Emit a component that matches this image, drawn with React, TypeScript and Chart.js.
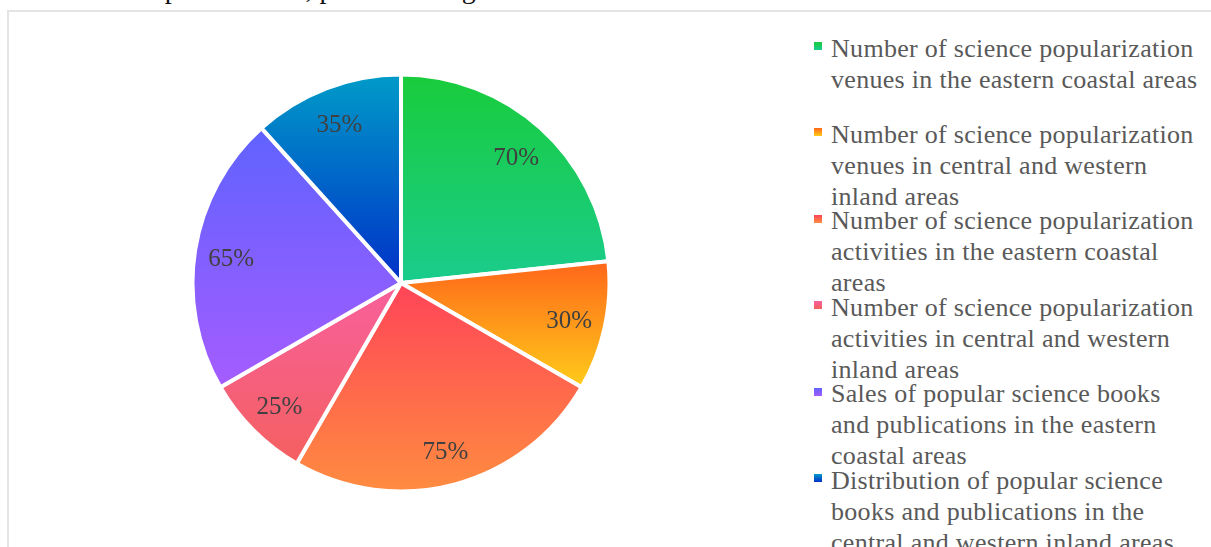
import React, { useEffect, useRef } from "react";
import { Chart, registerables } from "chart.js";

Chart.register(...registerables);

// ---- data ----
const categories: string[][] = [
  ["Number of science popularization", "venues in the eastern coastal areas"],
  ["Number of science popularization", "venues in central and western", "inland areas"],
  ["Number of science popularization", "activities in the eastern coastal", "areas"],
  ["Number of science popularization", "activities in central and western", "inland areas"],
  ["Sales of popular science books", "and publications in the eastern", "coastal areas"],
  ["Distribution of popular science", "books and publications in the", "central and western inland areas"],
];
const values: number[] = [70, 30, 75, 25, 65, 35];
const valueSuffix = "%";
const gradientTops: string[] = ["#19cc3b", "#ff661a", "#ff4458", "#f8609c", "#5f63ff", "#009bc8"];
const gradientBottoms: string[] = ["#1acc8c", "#ffcc1a", "#ff8c40", "#f46060", "#a55cff", "#0030c8"];
const titleText = "Development status, percent change";

const FONT = '"Liberation Serif", "Times New Roman", serif';

const slicePlugin = {
  id: "sliceGradientsAndLabels",
  beforeDatasetsDraw(chart: any) {
    const ctx = chart.ctx as CanvasRenderingContext2D;
    const meta = chart.getDatasetMeta(0);
    meta.data.forEach((arc: any, i: number) => {
      const { y, startAngle, endAngle, outerRadius } = arc.getProps(
        ["x", "y", "startAngle", "endAngle", "outerRadius"],
        true
      );
      const ys = [y, y + outerRadius * Math.sin(startAngle), y + outerRadius * Math.sin(endAngle)];
      for (let k = -3; k <= 3; k++) {
        const a = Math.PI / 2 + k * Math.PI;
        if (a > startAngle && a < endAngle) ys.push(y + outerRadius * Math.sin(a));
      }
      const g = ctx.createLinearGradient(0, Math.min(...ys), 0, Math.max(...ys));
      g.addColorStop(0, gradientTops[i]);
      g.addColorStop(1, gradientBottoms[i]);
      arc.options.backgroundColor = g;
    });
  },
  afterDatasetsDraw(chart: any) {
    const ctx = chart.ctx as CanvasRenderingContext2D;
    const meta = chart.getDatasetMeta(0);
    ctx.save();
    ctx.font = `25px ${FONT}`;
    ctx.fillStyle = "#404040";
    ctx.textAlign = "center";
    ctx.textBaseline = "middle";
    meta.data.forEach((arc: any, i: number) => {
      const { x, y, startAngle, endAngle, outerRadius } = arc.getProps(
        ["x", "y", "startAngle", "endAngle", "outerRadius"],
        true
      );
      const mid = (startAngle + endAngle) / 2;
      const r = outerRadius * 0.825;
      ctx.fillText(values[i] + valueSuffix, x + r * Math.cos(mid), y + r * Math.sin(mid) + 3);
    });
    ctx.restore();
  },
};

export default function App() {
  const canvasRef = useRef<HTMLCanvasElement | null>(null);

  useEffect(() => {
    if (!canvasRef.current) return;
    const chart = new Chart(canvasRef.current, {
      type: "pie",
      data: {
        labels: categories.map((l) => l.join(" ")),
        datasets: [
          {
            data: values,
            backgroundColor: gradientTops,
            borderColor: "#ffffff",
            borderWidth: 4,
          },
        ],
      },
      options: {
        responsive: false,
        animation: false,
        radius: 208.5,
        layout: { padding: 0 },
        events: [],
        plugins: {
          legend: { display: false },
          tooltip: { enabled: false },
          title: { display: false },
        },
      } as any,
      plugins: [slicePlugin],
    });
    return () => chart.destroy();
  }, []);

  return (
    <div
      style={{
        position: "fixed",
        left: 0,
        top: 0,
        width: "100vw",
        height: "100vh",
        overflow: "hidden",
        background: "#ffffff",
        fontFamily: FONT,
      }}
    >
      <div
        style={{
          position: "absolute",
          left: 84,
          top: -25,
          fontSize: 28,
          lineHeight: "28px",
          color: "#111",
          whiteSpace: "nowrap",
        }}
      >
        {titleText}
      </div>
      <div
        style={{
          position: "absolute",
          left: 7,
          top: 10,
          width: 1400,
          height: 800,
          border: "2px solid #e4e4e4",
          boxSizing: "border-box",
        }}
      />
      <canvas
        ref={canvasRef}
        width={420}
        height={420}
        style={{ position: "absolute", left: 191, top: 73, width: 420, height: 420 }}
      />
      {categories.map((lines, i) => (
        <div key={i}>
          <div
            style={{
              position: "absolute",
              left: 814,
              top: 42 + i * 86.4,
              width: 8,
              height: 8,
              background: `linear-gradient(to bottom, ${gradientTops[i]}, ${gradientBottoms[i]})`,
            }}
          />
          <div
            style={{
              position: "absolute",
              left: 831,
              top: 32.5 + i * 86.4,
              fontSize: 26,
              lineHeight: "31px",
              letterSpacing: "0.3px",
              color: "#595959",
              whiteSpace: "nowrap",
            }}
          >
            {lines.map((t, j) => (
              <div key={j}>{t}</div>
            ))}
          </div>
        </div>
      ))}
    </div>
  );
}
